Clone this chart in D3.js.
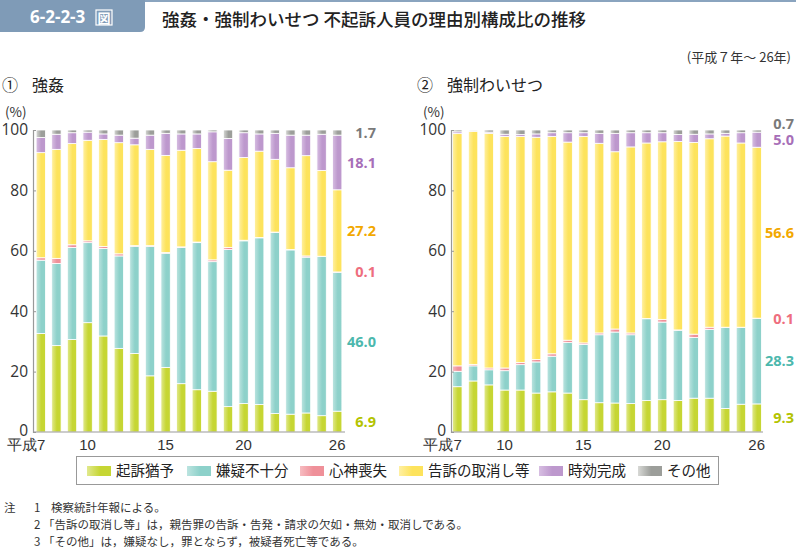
<!DOCTYPE html>
<html><head><meta charset="utf-8">
<script src="https://cdn.jsdelivr.net/npm/d3@7"></script>
<style>
html,body{margin:0;padding:0;background:#fff;}
svg{display:block;font-family:"Noto Sans CJK JP","Noto Sans",sans-serif;}
</style></head>
<body>
<script>
// ---- data ----
const years = ["7","8","9","10","11","12","13","14","15","16","17","18","19","20","21","22","23","24","25","26"];
const tickYears = ["7","10","15","20","26"];
const reasons = ["起訴猶予","嫌疑不十分","心神喪失","告訴の取消し等","時効完成","その他"];

// ① 強姦
const rapeSuspended   = [32.6,28.6,30.6,36.2,31.8,27.7,26.0,18.6,21.4,16.0,14.0,13.5,8.4,9.4,9.1,6.1,5.9,6.3,5.4,6.9];
const rapeInsufficient= [24.3,27.2,30.5,26.5,29.0,30.6,35.5,42.9,37.8,45.1,48.7,42.9,52.0,53.9,55.2,60.0,54.4,51.6,52.7,46.0];
const rapeInsanity    = [0.8,1.7,0.9,0.6,0.6,0.7,0.2,0.2,0.2,0.2,0.2,0.6,0.7,0.2,0.1,0.1,0.1,0.4,0.1,0.1];
const rapeWithdrawn   = [34.8,36.1,33.5,33.3,35.5,36.8,33.4,31.9,32.2,32.0,31.0,32.5,25.6,27.4,28.6,24.1,27.1,33.2,28.4,27.2];
const rapeExpired     = [5.0,5.0,3.6,2.7,1.8,2.5,2.2,4.7,7.3,5.4,4.8,9.9,10.5,8.2,5.7,8.6,10.8,6.8,12.0,18.1];
const rapeOther       = [2.5,1.4,0.9,0.7,1.3,1.7,2.7,1.7,1.1,1.3,1.3,0.6,2.8,0.9,1.3,1.1,1.7,1.7,1.4,1.7];

// ② 強制わいせつ
const indSuspended    = [15.0,16.9,15.6,13.9,13.9,12.9,13.3,12.9,10.7,9.7,9.6,9.4,10.4,10.7,10.4,11.2,11.2,7.8,9.2,9.3];
const indInsufficient = [5.1,5.0,5.0,6.4,8.4,10.3,11.8,16.7,18.3,22.5,23.5,22.8,27.1,25.7,23.3,20.1,22.8,26.8,25.4,28.3];
const indInsanity     = [1.8,0.5,0.6,0.9,0.7,0.8,0.8,0.8,0.5,0.6,1.0,0.6,0.1,0.9,0.1,1.1,0.7,0.1,0.1,0.1];
const indWithdrawn    = [76.9,77.2,77.7,76.7,74.9,73.6,72.0,65.6,68.4,62.8,58.7,61.6,58.1,58.8,62.4,63.5,62.4,63.3,61.0,56.6];
const indExpired      = [0.6,0.1,0.4,0.7,0.6,1.1,1.2,3.1,1.2,3.3,6.1,4.7,3.4,3.0,2.3,2.7,1.6,0.9,3.4,5.0];
const indOther        = [0.6,0.3,0.7,1.4,1.5,1.3,0.9,0.9,0.9,1.1,1.1,0.9,0.9,0.9,1.5,1.4,1.3,1.1,0.9,0.7];

const yTicks = [0,20,40,60,80,100];
const notes = [
  ["注","1","検察統計年報による。"],
  ["","2","「告訴の取消し等」は，親告罪の告訴・告発・請求の欠如・無効・取消しである。"],
  ["","3","「その他」は，嫌疑なし，罪とならず，被疑者死亡等である。"]
];

// ---- styles ----
const mainCol  = ["#c6d633","#8dd1ca","#ef9099","#fde35c","#bd98cd","#9c9e9a"];
const lightCol = ["#e1e98e","#bce4e0","#f7bcc1","#fff0a3","#d7bee2","#d8d9d6"];
const labelCol = ["#b3c300","#4cb8ad","#ee6e7e","#f2a800","#a76fb8","#7a7a7a"];

const W = 796, H = 548;
const svg = d3.select("body").append("svg").attr("width",W).attr("height",H);
const defs = svg.append("defs");
reasons.forEach((r,i)=>{
  const g = defs.append("linearGradient").attr("id","g"+i).attr("x1","0").attr("x2","1").attr("y1","0").attr("y2","0");
  g.append("stop").attr("offset","0%").attr("stop-color",lightCol[i]);
  g.append("stop").attr("offset","55%").attr("stop-color",mainCol[i]);
  g.append("stop").attr("offset","100%").attr("stop-color",mainCol[i]);
});

// header
svg.append("rect").attr("x",0).attr("y",0).attr("width",W).attr("height",2).attr("fill","#8aa4bf");
svg.append("path").attr("d","M0,0 H145 V27 Q145,32 140,32 H0 Z").attr("fill","#7f9bb7");
svg.append("text").attr("x",30).attr("y",23).attr("fill","#fff").attr("font-size",17).attr("font-weight",700)
  .attr("font-family","'Open Sans','Noto Sans CJK JP',sans-serif").text("6-2-2-3");
svg.append("rect").attr("x",96).attr("y",10).attr("width",16).attr("height",15).attr("fill","none").attr("stroke","#fff").attr("stroke-width",1.2);
svg.append("text").attr("x",104).attr("y",22.5).attr("text-anchor","middle").attr("fill","#fff").attr("font-size",13).attr("font-weight",700).text("図");
svg.append("text").attr("x",162).attr("y",26).attr("fill","#222").attr("font-size",17.5).attr("font-weight",500)
  .text("強姦・強制わいせつ 不起訴人員の理由別構成比の推移");

svg.append("text").attr("x",791).attr("y",62).attr("text-anchor","end").attr("fill","#333").attr("font-size",13).text("(平成７年～ 26年)");

const y = d3.scaleLinear().domain([0,100]).range([432,130]);

function drawPanel(opts){
  const {axisX, xEnd, pOuter, series, title, titleX, labelEnd} = opts;
  const g = svg.append("g");
  const x = d3.scaleBand().domain(years).range([axisX, xEnd]).paddingInner(0.4).paddingOuter(pOuter);
  // title
  g.append("text").attr("x",titleX).attr("y",91).attr("fill","#222").attr("font-size",16).text("①②"[opts.idx]);
  g.append("text").attr("x",titleX+30).attr("y",91).attr("fill","#222").attr("font-size",16).text(title);
  g.append("text").attr("x",axisX-28).attr("y",117).attr("fill","#333").attr("font-size",13.5).text("(%)");

  // stacked data
  const rows = years.map((yr,j)=>{ const o={year:yr}; reasons.forEach((r,i)=>o[r]=series[i][j]); return o; });
  const stack = d3.stack().keys(reasons)(rows);
  stack.forEach((layer,i)=>{
    g.append("g").selectAll("rect").data(layer).join("rect")
      .attr("x",d=>x(d.data.year)).attr("width",x.bandwidth())
      .attr("y",d=>y(d[1])).attr("height",d=>Math.max(0,y(d[0])-y(d[1])))
      .attr("fill","url(#g"+i+")").attr("stroke","#fff").attr("stroke-width",0.8);
  });

  // axes
  const ya = g.append("g").attr("transform",`translate(${axisX},0)`)
    .call(d3.axisLeft(y).tickValues(yTicks).tickSize(-3).tickPadding(5));
  ya.select(".domain").attr("stroke","#999").attr("stroke-width",1.2);
  ya.selectAll(".tick line").attr("stroke","#999");
  ya.selectAll(".tick text").attr("fill","#333").attr("font-size",15.5).attr("font-family","'Open Sans','Noto Sans CJK JP',sans-serif")
    .attr("dy",d=>d===0?"0.2em":"0.32em");

  g.append("line").attr("x1",axisX).attr("x2",xEnd).attr("y1",432).attr("y2",432).attr("stroke","#999").attr("stroke-width",1.2);
  const xa = g.append("g").attr("transform","translate(0,432)")
    .call(d3.axisBottom(x).tickValues(tickYears).tickSize(0).tickPadding(7).tickFormat(d=>d==="7"?"平成7":d));
  xa.select(".domain").remove();
  xa.selectAll(".tick text").attr("fill","#333").attr("font-size",15)
    .attr("text-anchor",d=>d==="7"?"end":"middle").attr("dx",d=>d==="7"?"0.3em":0);

  // end labels at last bar segment midpoints with collision avoidance
  const last = years.length-1;
  const labs = stack.map((layer,i)=>({i, v:series[i][last], py: y((layer[last][0]+layer[last][1])/2)}));
  for(let k=1;k<labs.length;k++){
    if(labs[k-1].py - labs[k].py < 15.5) labs[k].py = labs[k-1].py - 15.5;
  }
  labs.forEach(l=>{
    g.append("text").attr("x",labelEnd).attr("y",l.py).attr("dy","0.36em").attr("text-anchor","end")
      .attr("fill",labelCol[l.i]).attr("font-size",14.5).attr("font-weight",700)
      .attr("font-family","'Open Sans','Noto Sans CJK JP',sans-serif").text(l.v.toFixed(1));
  });
}

drawPanel({idx:0, axisX:33, xEnd:345, pOuter:0.2, titleX:2, title:"強姦", labelEnd:376,
  series:[rapeSuspended,rapeInsufficient,rapeInsanity,rapeWithdrawn,rapeExpired,rapeOther]});
drawPanel({idx:1, axisX:451, xEnd:763, pOuter:0.1, titleX:417, title:"強制わいせつ", labelEnd:794,
  series:[indSuspended,indInsufficient,indInsanity,indWithdrawn,indExpired,indOther]});

// legend
const lg = svg.append("g");
lg.append("rect").attr("x",76.5).attr("y",456.5).attr("width",642).attr("height",28).attr("fill","#fff").attr("stroke","#999");
const legX = [87,187,300,399,539,638];
reasons.forEach((r,i)=>{
  lg.append("rect").attr("x",legX[i]).attr("y",466).attr("width",24).attr("height",10).attr("fill","url(#g"+i+")");
  lg.append("text").attr("x",legX[i]+29).attr("y",471).attr("dy","0.36em").attr("fill","#222").attr("font-size",14.5).text(r);
});

// notes
const ng = svg.append("g").attr("font-size",11.5).attr("fill","#333");
notes.forEach((n,k)=>{
  const yy = 512 + k*17;
  ng.append("text").attr("x",4).attr("y",yy).text(n[0]);
  ng.append("text").attr("x",34).attr("y",yy).text(n[1]);
  ng.append("text").attr("x",k===0?51:43).attr("y",yy).text(n[2]);
});
</script>
</body></html>
